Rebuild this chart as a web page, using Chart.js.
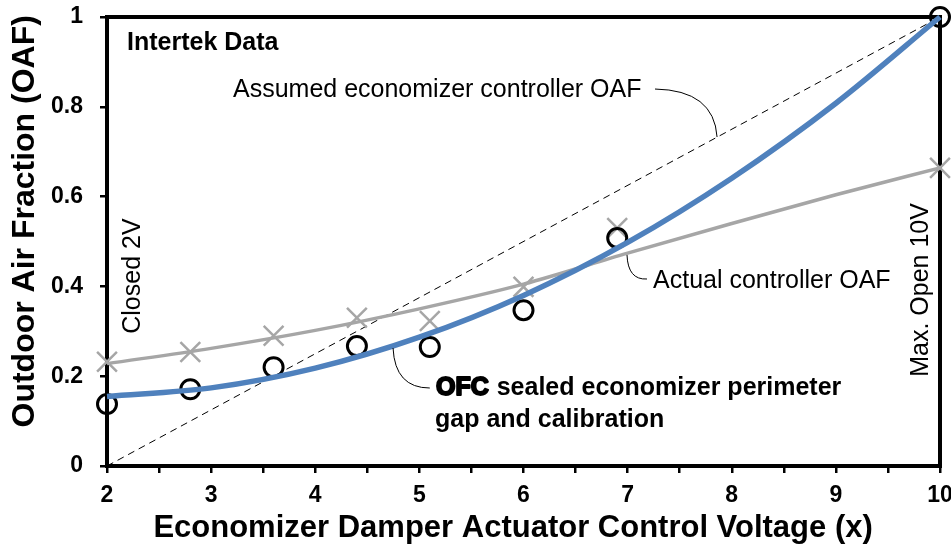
<!DOCTYPE html>
<html><head><meta charset="utf-8">
<script src="https://cdn.jsdelivr.net/npm/chart.js@4.4.0/dist/chart.umd.min.js"></script>
<style>html,body{margin:0;padding:0;background:#fff;}#wrap{width:951px;height:546px;}</style>
</head><body><div id="wrap"><canvas id="c" width="951" height="546"></canvas></div>
<script>
// ---- data ----
const testVolts     = [2, 2.8, 3.6, 4.4, 5.1, 6, 6.9, 10];
const measuredOAF   = [0.138, 0.171, 0.220, 0.267, 0.265, 0.347, 0.508, 1.0];   // circles (OFC)
const controllerOAF = [0.232, 0.254, 0.290, 0.330, 0.323, 0.399, 0.530, 0.664]; // crosses
const fitVolts      = [2, 3, 4, 5, 6, 7, 8, 9, 10];
const ofcFitOAF     = [0.155, 0.174, 0.218, 0.287, 0.380, 0.498, 0.641, 0.808, 1.0];
const controllerFitOAF = [0.228, 0.262, 0.302, 0.350, 0.405, 0.474, 0.540, 0.604, 0.664];
const assumedVolts  = [2, 10];
const assumedOAF    = [0, 1];
const xTickValues   = [2, 3, 4, 5, 6, 7, 8, 9, 10];
const yTickValues   = [0, 0.2, 0.4, 0.6, 0.8, 1];

const FONT = '"Liberation Sans", Arial, sans-serif';
const pts = (xs, ys) => xs.map((x, i) => ({x, y: ys[i]}));

const annotPlugin = {
  id: 'annot',
  beforeDatasetsDraw(chart) {
    const {ctx, chartArea: a} = chart;
    ctx.save();
    ctx.strokeStyle = '#000';
    ctx.lineWidth = 4;
    ctx.strokeRect(a.left, a.top, a.right - a.left, a.bottom - a.top);
    ctx.restore();
  },
  afterDraw(chart) {
    const {ctx} = chart;
    const X = v => chart.scales.x.getPixelForValue(v);
    const Y = v => chart.scales.y.getPixelForValue(v);
    ctx.save();
    ctx.fillStyle = '#000';
    ctx.textBaseline = 'alphabetic';
    ctx.textAlign = 'left';
    // Intertek Data
    ctx.font = 'bold 25px ' + FONT;
    ctx.fillText('Intertek Data', X(2.192), Y(0.9265));
    // Assumed
    ctx.font = '25px ' + FONT;
    ctx.fillText('Assumed economizer controller OAF', X(3.21), Y(0.822));
    ctx.fillText('Actual controller OAF', X(7.244), Y(0.3964));
    // leaders
    ctx.strokeStyle = '#000';
    ctx.lineWidth = 1;
    ctx.beginPath();
    ctx.moveTo(X(7.263), Y(0.8396));
    ctx.quadraticCurveTo(X(7.83), Y(0.837), X(7.859), Y(0.7327));
    ctx.stroke();
    ctx.beginPath();
    ctx.moveTo(X(6.994), Y(0.470));
    ctx.quadraticCurveTo(X(7.003), Y(0.414), X(7.186), Y(0.4165));
    ctx.stroke();
    ctx.beginPath();
    ctx.moveTo(X(4.747), Y(0.2628));
    ctx.quadraticCurveTo(X(4.766), Y(0.1737), X(5.10), Y(0.1737));
    ctx.stroke();
    // OFC text
    ctx.font = 'bold 25px ' + FONT;
    ctx.lineWidth = 2;
    ctx.lineJoin = 'round';
    const ox = X(5.15), oy = Y(0.158);
    ctx.strokeText('OFC', ox + 1, oy);
    ctx.fillText('OFC', ox + 1, oy);
    const w = ctx.measureText('OFC').width + 2;
    ctx.fillText(' sealed economizer perimeter', ox + w, oy);
    ctx.fillText('gap and calibration', ox, Y(0.0869));
    // rotated labels
    ctx.font = '25px ' + FONT;
    ctx.textAlign = 'center';
    ctx.save();
    ctx.translate(X(2.317), Y(0.423));
    ctx.rotate(-Math.PI / 2);
    ctx.fillText('Closed 2V', 0, 0);
    ctx.restore();
    ctx.save();
    ctx.translate(X(9.885), Y(0.392));
    ctx.rotate(-Math.PI / 2);
    ctx.fillText('Max. Open 10V', 0, 0);
    ctx.restore();
    // axis titles
    ctx.font = 'bold 31px ' + FONT;
    ctx.fillText('Economizer Damper Actuator Control Voltage (x)', X(5.9), 537);
    ctx.textBaseline = 'middle';
    ctx.save();
    ctx.translate(25, Y(0.545));
    ctx.rotate(-Math.PI / 2);
    ctx.font = 'bold 32px ' + FONT;
    ctx.fillText('Outdoor Air Fraction (OAF)', 0, 0);
    ctx.restore();
    ctx.restore();
  }
};

new Chart(document.getElementById('c'), {
  type: 'scatter',
  data: {
    datasets: [
      { label: 'OFC fit', data: pts(fitVolts, ofcFitOAF), showLine: true, borderColor: '#4f81bd', borderWidth: 5.5,
        pointRadius: 0, cubicInterpolationMode: 'monotone', clip: false },
      { label: 'OFC measured', data: pts(testVolts, measuredOAF), showLine: false, pointStyle: 'circle',
        pointRadius: 9.5, borderColor: '#000', borderWidth: 3, backgroundColor: 'rgba(0,0,0,0)', clip: false },
      { label: 'Actual controller fit', data: pts(fitVolts, controllerFitOAF), showLine: true, borderColor: '#a6a6a6', borderWidth: 3.5,
        pointRadius: 0, cubicInterpolationMode: 'monotone', clip: false },
      { label: 'Actual controller', data: pts(testVolts, controllerOAF), showLine: false, pointStyle: 'crossRot',
        pointRadius: 14, borderColor: '#a6a6a6', borderWidth: 2.5, clip: false },
      { label: 'Assumed', data: pts(assumedVolts, assumedOAF), showLine: true, borderColor: '#000', borderWidth: 1,
        borderDash: [7, 5], pointRadius: 0, clip: false }
    ]
  },
  options: {
    responsive: false, animation: false, devicePixelRatio: 1,
    layout: { autoPadding: false, padding: { top: 17, right: 11, left: 0, bottom: 0 } },
    plugins: { legend: { display: false }, tooltip: { enabled: false } },
    scales: {
      x: {
        type: 'linear', min: 2, max: 10,
        afterBuildTicks: s => { const t = []; for (let v = 2; v <= 10.001; v += 0.5) t.push({value: v}); s.ticks = t; },
        afterFit: s => { s.height = 80; s.paddingLeft = 0; s.paddingRight = 0; },
        ticks: { autoSkip: false, maxRotation: 0, color: '#000', padding: 9,
          font: { family: FONT, size: 23, weight: 'bold' },
          callback: v => xTickValues.includes(v) ? String(v) : '' },
        grid: { drawOnChartArea: false, tickLength: 7, color: '#000', lineWidth: 2.5 },
        border: { display: false }
      },
      y: {
        min: 0, max: 1,
        afterBuildTicks: s => { s.ticks = yTickValues.map(v => ({value: v})); },
        afterFit: s => { s.width = 107; s.paddingTop = 0; s.paddingBottom = 0; },
        ticks: { color: '#000', padding: 17,
          font: { family: FONT, size: 23, weight: 'bold' },
          callback: v => (v === 0 || v === 1) ? String(v) : v.toFixed(1) },
        grid: { drawOnChartArea: false, tickLength: 7, color: '#000', lineWidth: 2.5 },
        border: { display: false }
      }
    }
  },
  plugins: [annotPlugin]
});
</script></body></html>
